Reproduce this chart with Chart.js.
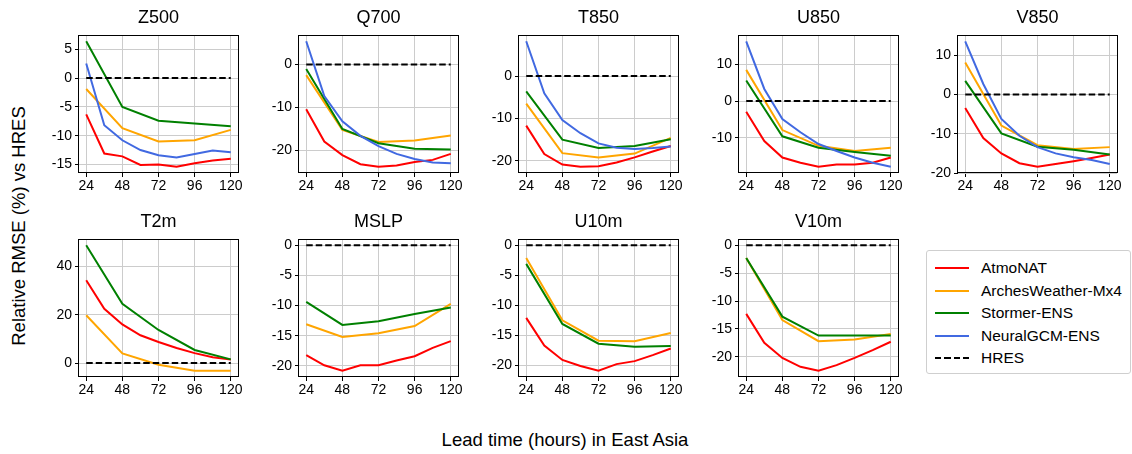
<!doctype html>
<html lang="en">
<head>
<meta charset="utf-8">
<title>Relative RMSE vs HRES - East Asia</title>
<script src="https://cdn.jsdelivr.net/npm/chart.js@4.4.1/dist/chart.umd.min.js"></script>
<style>
    body { margin: 0; background: #fff; }
    #wrap { position: relative; width: 1132px; height: 454px; background: #fff; font-family: "Liberation Sans", Arial, sans-serif; color: #000; }
    .panel { position: absolute; }
    .ylabel { position: absolute; left: 19px; top: 226px; transform: translate(-50%, -50%) rotate(-90deg); font-size: 18.5px; white-space: nowrap; }
    .xlabel { position: absolute; left: 565px; top: 440px; transform: translate(-50%, -50%); font-size: 18.5px; white-space: nowrap; }
    .legend { position: absolute; left: 926px; top: 250px; width: 203px; height: 122px; border: 1px solid #cfcfcf; border-radius: 3px; }
    .legend .row { position: absolute; left: 0; height: 20px; width: 100%; font-size: 15.5px; line-height: 20px; }
    .legend .sw { position: absolute; left: 8px; top: 9px; width: 34px; height: 2px; }
    .legend .txt { position: absolute; left: 54px; top: 0; white-space: nowrap; }
</style>
</head>
<body>
<div id="wrap">
    <div class="ylabel">Relative RMSE (%) vs HRES</div>
    <div class="xlabel">Lead time (hours) in East Asia</div>
    <div class="legend" id="legend"></div>
</div>
<script>
    // lead times (hours)
    const leadFine = [24, 36, 48, 60, 72, 84, 96, 108, 120];
    const leadCoarse = [24, 48, 72, 96, 120];
    const xTicks = [24, 48, 72, 96, 120];

    const panelNames = ['Z500', 'Q700', 'T850', 'U850', 'V850', 'T2m', 'MSLP', 'U10m', 'V10m'];
    const yStep = [5, 10, 10, 10, 10, 20, 5, 5, 5];

    // AtmoNAT, 12h steps
    const atmoNAT = [
        [-6.3, -13.1, -13.6, -15.1, -15.0, -15.4, -14.8, -14.3, -14.0],
        [-10.5, -18.0, -21.2, -23.3, -23.9, -23.6, -22.8, -22.3, -20.9],
        [-11.7, -18.4, -20.9, -21.4, -21.3, -20.4, -19.2, -17.8, -16.5],
        [-2.9, -10.9, -15.4, -16.8, -17.9, -17.3, -17.3, -16.8, -15.4],
        [-3.4, -11.1, -15.0, -17.5, -18.4, -17.7, -17.0, -16.2, -15.3],
        [34.3, 22.5, 16.0, 11.5, 8.7, 6.2, 4.1, 2.4, 1.4],
        [-18.2, -19.9, -20.8, -19.9, -19.9, -19.1, -18.4, -17.0, -15.9],
        [-12.1, -16.7, -19.1, -20.1, -20.9, -19.8, -19.3, -18.3, -17.2],
        [-12.3, -17.5, -20.2, -21.8, -22.5, -21.5, -20.2, -18.8, -17.3]
    ];

    // ArchesWeather-Mx4, 24h steps
    const archesWeather = [
        [-1.9, -8.7, -11.0, -10.8, -9.0],
        [-2.5, -15.3, -18.1, -17.8, -16.6],
        [-6.5, -18.2, -19.2, -18.3, -14.6],
        [8.5, -7.9, -12.2, -13.6, -12.7],
        [8.2, -7.9, -12.9, -13.9, -13.4],
        [19.8, 4.0, -0.7, -3.2, -3.2],
        [-13.1, -15.2, -14.6, -13.4, -9.7],
        [-2.1, -12.5, -15.9, -16.0, -14.6],
        [-2.3, -13.4, -17.2, -16.9, -15.9]
    ];

    // Stormer-ENS, 24h steps
    const stormerEns = [
        [6.4, -5.0, -7.4, -7.9, -8.35],
        [-1.1, -15.1, -18.4, -19.7, -19.9],
        [-3.6, -15.0, -17.0, -16.5, -14.9],
        [5.6, -9.6, -12.7, -13.9, -14.9],
        [3.5, -9.9, -13.3, -14.1, -15.3],
        [48.8, 24.5, 13.7, 5.4, 1.5],
        [-9.4, -13.2, -12.6, -11.4, -10.3],
        [-3.1, -13.1, -16.4, -16.9, -16.8],
        [-2.3, -12.8, -16.2, -16.2, -16.2]
    ];

    // NeuralGCM-ENS, 12h steps (no surface variables)
    const neuralGcmEns = [
        [2.55, -8.2, -10.8, -12.5, -13.4, -13.8, -13.2, -12.6, -12.9],
        [5.4, -7.4, -13.3, -16.7, -19.1, -20.9, -22.1, -22.9, -23.1],
        [8.2, -4.1, -10.4, -13.5, -15.9, -16.9, -17.2, -17.0, -16.6],
        [16.3, 3.3, -4.9, -8.5, -11.7, -13.6, -15.4, -16.8, -17.9],
        [13.6, 2.7, -6.2, -10.5, -13.4, -15.0, -16.0, -16.7, -17.7],
        null, null, null, null
    ];

    const hresLevel = [0, 0, 0, 0, 0];

    const seriesInfo = [
        { label: 'AtmoNAT', color: '#ff0000' },
        { label: 'ArchesWeather-Mx4', color: '#ffa500' },
        { label: 'Stormer-ENS', color: '#008000' },
        { label: 'NeuralGCM-ENS', color: '#4169e1' },
        { label: 'HRES', color: '#000000', dash: [6.5, 3] }
    ];

    // layout
    const colLeft = [79, 299, 519, 739, 958];
    const rowTop = [35, 239];
    const plotW = 159, plotH = 138;
    const padL = 50, padT = 30, padB = 26, padR = 14;
    const fontFam = '"Liberation Sans", Arial, sans-serif';

    Chart.defaults.font.family = fontFam;
    Chart.defaults.color = '#000';

    // draw the full box round the plot area like matplotlib spines
    const framePlugin = {
        id: 'frame',
        afterDraw(chart) {
            const a = chart.chartArea, ctx = chart.ctx;
            ctx.save();
            ctx.strokeStyle = '#000';
            ctx.lineWidth = 1;
            ctx.strokeRect(Math.round(a.left) - 0.5, Math.round(a.top) + 0.5, Math.round(a.right - a.left) + 1, Math.round(a.bottom - a.top) - 1);
            ctx.restore();
        }
    };

    let toPts = (xs, ys) => xs.map((x, j) => ({ x: x, y: ys[j] }));

    let makePanel = (i) => {
        let col = i % 5, row = Math.floor(i / 5);
        let div = document.createElement('div');
        div.className = 'panel';
        div.style.left = (colLeft[col] - padL) + 'px';
        div.style.top = (rowTop[row] - padT) + 'px';
        let cv = document.createElement('canvas');
        cv.width = padL + plotW + padR;
        cv.height = padT + plotH + padB;
        div.appendChild(cv);
        document.getElementById('wrap').appendChild(div);

        let series = [atmoNAT[i], archesWeather[i], stormerEns[i], neuralGcmEns[i]];
        let xsets = [leadFine, leadCoarse, leadCoarse, leadFine];
        let all = [0];
        series.forEach(s => { if (s) all = all.concat(s); });
        let lo = Math.min(...all), hi = Math.max(...all);
        let m = (hi - lo) * 0.05;

        let datasets = [];
        series.forEach((s, k) => {
            if (!s) return;
            datasets.push({
                label: seriesInfo[k].label,
                data: toPts(xsets[k], s),
                borderColor: seriesInfo[k].color,
                borderWidth: 2,
                pointRadius: 0,
                tension: 0,
                order: 10 - k
            });
        });
        datasets.push({
            label: 'HRES',
            data: toPts(leadCoarse, hresLevel),
            borderColor: '#000',
            borderWidth: 2,
            borderDash: seriesInfo[4].dash,
            pointRadius: 0,
            order: 1
        });

        let step = yStep[i];
        new Chart(cv, {
            type: 'line',
            data: { datasets: datasets },
            options: {
                responsive: false,
                animation: false,
                devicePixelRatio: 1,
                layout: { padding: { left: 0, right: padR, top: 0, bottom: 0 } },
                plugins: {
                    legend: { display: false },
                    tooltip: { enabled: false },
                    title: {
                        display: true,
                        fullSize: false,
                        text: panelNames[i],
                        color: '#000',
                        font: { size: 18, weight: 'normal' },
                        padding: { top: 2, bottom: 6.4 }
                    }
                },
                scales: {
                    x: {
                        type: 'linear',
                        min: 24 - 4.8,
                        max: 120 + 4.8,
                        afterBuildTicks: s => { s.ticks = xTicks.map(v => ({ value: v })); },
                        afterFit: s => { s.height = padB; },
                        grid: { color: '#cccccc', lineWidth: 1, tickColor: '#000', tickLength: 4 },
                        border: { display: false },
                        ticks: { font: { size: 14 }, padding: 1, maxRotation: 0, autoSkip: false }
                    },
                    y: {
                        type: 'linear',
                        min: lo - m,
                        max: hi + m,
                        afterBuildTicks: s => {
                            let t = [];
                            for (let v = Math.ceil(s.min / step) * step; v <= s.max + 1e-9; v += step) t.push({ value: v });
                            s.ticks = t;
                        },
                        afterFit: s => { s.width = padL; },
                        grid: { color: '#cccccc', lineWidth: 1, tickColor: '#000', tickLength: 4 },
                        border: { display: false },
                        ticks: { font: { size: 14 }, padding: 3, autoSkip: false }
                    }
                }
            },
            plugins: [framePlugin]
        });
    };

    panelNames.forEach((n, i) => makePanel(i));

    // legend in the empty tenth slot
    let lg = document.getElementById('legend');
    seriesInfo.forEach((s, k) => {
        let r = document.createElement('div');
        r.className = 'row';
        r.style.top = (7 + k * 22.6) + 'px';
        let sw = document.createElement('div');
        sw.className = 'sw';
        if (s.dash) {
            sw.style.background = 'repeating-linear-gradient(90deg, #000 0 6.5px, transparent 6.5px 9.5px)';
        } else {
            sw.style.background = s.color;
        }
        let tx = document.createElement('div');
        tx.className = 'txt';
        tx.textContent = s.label;
        r.appendChild(sw);
        r.appendChild(tx);
        lg.appendChild(r);
    });
</script>
</body>
</html>
